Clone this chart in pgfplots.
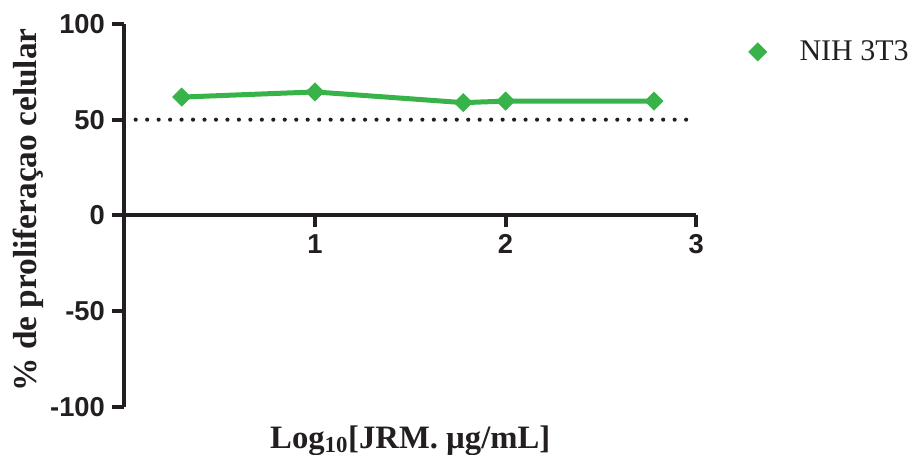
\documentclass[border=0pt]{standalone}
\usepackage{fontspec}
\setmainfont{Liberation Serif}
\setsansfont{Liberation Sans}
\usepackage{pgfplots}
\pgfplotsset{compat=1.18}
\definecolor{NIHGreen}{HTML}{37B34A}
\definecolor{AxisBlack}{HTML}{231F20}

\begin{document}
\begin{tikzpicture}
\begin{axis}[
  at={(0,0)}, anchor=south west,
  scale only axis, width=429pt, height=287pt,
  xmin=0, xmax=3, ymin=-100, ymax=100,
  axis y line=left, axis x line=middle,
  axis line style={-, line width=3pt, AxisBlack},
  xtick={1,2,3}, xticklabels={1,2,3},
  ytick={-100,-50,0,50,100}, yticklabels={-100,-50,0,50,100},
  hide obscured x ticks=false, hide obscured y ticks=false,
  tick align=outside, major tick length=9pt,
  tick style={line width=3pt, AxisBlack},
  tick label style={font=\sffamily\bfseries\fontsize{20.5}{24}\selectfont, text=AxisBlack},
  yticklabel style={xshift=-2pt},
  xticklabel style={yshift=-2pt},
  xlabel={Log\textsubscript{10}[JRM. µg/mL]},
  ylabel={\% de proliferaçao celular},
  xlabel style={at={(axis description cs:0.5,0)}, anchor=base, yshift=-31pt,
    font=\bfseries\fontsize{24.5}{28}\selectfont, text=AxisBlack},
  ylabel style={at={(axis description cs:0,0.514)}, anchor=center, yshift=72pt,
    font=\bfseries\fontsize{25}{28}\selectfont, text=AxisBlack},
  legend style={at={(axis description cs:1.0886,0.927)}, anchor=west,
    draw=none, fill=none, inner sep=0pt, nodes={inner sep=0pt},
    font=\fontsize{22.5}{26}\selectfont, text=AxisBlack},
  legend image code/.code={\path (0pt,0pt) (35.5pt,0pt);
    \draw[#1] plot coordinates {(6pt,0pt)};},
  clip=false,
]
% 50% reference line
\addplot[AxisBlack, line width=3.1pt, line cap=round, dash pattern=on 0pt off 8.6pt, forget plot]
  coordinates {(0.06,50) (3,50)};
\addplot[color=NIHGreen, line width=3.75pt, mark=square*, mark size=4.8pt,
  mark options={rotate=45, line width=0.5pt, solid}]
  coordinates {(0.301,61.8) (1,64.5) (1.778,58.9) (2,59.7) (2.778,59.7)};
\addlegendentry{NIH 3T3}
\end{axis}
\pgfresetboundingbox
\path (-93.2pt,-35.5pt) rectangle (592.3pt,305pt);
\end{tikzpicture}
\end{document}
